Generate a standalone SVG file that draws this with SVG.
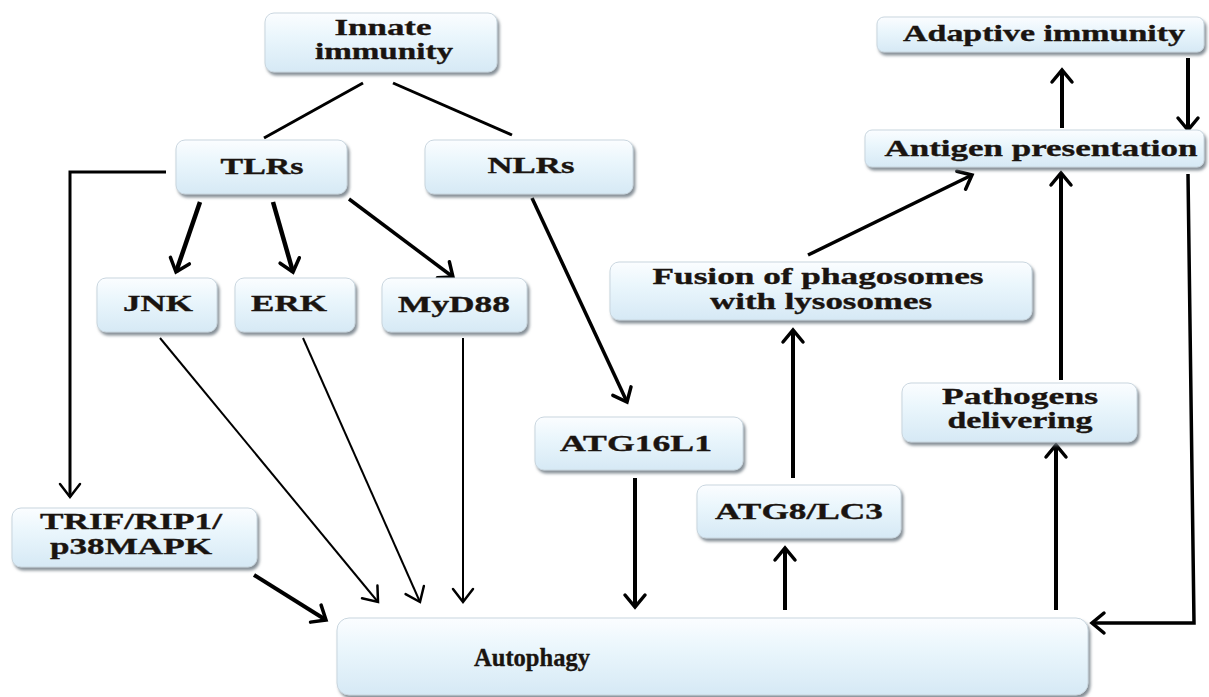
<svg xmlns="http://www.w3.org/2000/svg" width="1209" height="697" viewBox="0 0 1209 697">
<defs>
<linearGradient id="bg" x1="0" y1="0" x2="0" y2="1">
<stop offset="0" stop-color="#fbfdff"/>
<stop offset="0.4" stop-color="#eaf6fc"/>
<stop offset="1" stop-color="#d6e9f5"/>
</linearGradient>
<filter id="sh" x="-10%" y="-20%" width="125%" height="150%">
<feDropShadow dx="2" dy="3" stdDeviation="1.6" flood-color="#6f7a84" flood-opacity="0.85"/>
</filter>
<marker id="ah" markerUnits="userSpaceOnUse" markerWidth="26" markerHeight="26" viewBox="0 0 26 26" refX="22" refY="13" orient="auto">
<path d="M10,3 L22,13 L10,23" fill="none" stroke="#000" stroke-width="3.5" stroke-linecap="round" stroke-linejoin="miter"/>
</marker>
<marker id="at" markerUnits="userSpaceOnUse" markerWidth="26" markerHeight="26" viewBox="0 0 26 26" refX="22" refY="13" orient="auto">
<path d="M9,3 L22,13 L9,23" fill="none" stroke="#000" stroke-width="2.5" stroke-linecap="round"/>
</marker>
</defs>
<style>
.box{fill:url(#bg);stroke:#c9d6df;stroke-width:1;filter:url(#sh)}
.t{font-family:"Liberation Serif","Times New Roman",serif;font-weight:bold;font-size:24px;fill:#1a1410;stroke:#1a1410;stroke-width:0.35;text-anchor:middle}
.c{fill:none;stroke:#000;stroke-linecap:butt;stroke-linejoin:miter}
</style>
<rect width="1209" height="697" fill="#fff"/>

<g id="connectors">
<line class="c" x1="363" y1="83" x2="264" y2="138" stroke-width="3"/>
<line class="c" x1="393" y1="83" x2="512" y2="135" stroke-width="3"/>
<polyline class="c" points="166,172 70,172 70,497" stroke-width="3" marker-end="url(#at)"/>
<line class="c" x1="200" y1="202" x2="176" y2="272" stroke-width="4.5" marker-end="url(#ah)"/>
<line class="c" x1="273" y1="202" x2="293" y2="272" stroke-width="4.5" marker-end="url(#ah)"/>
<line class="c" x1="349" y1="199" x2="453" y2="277" stroke-width="3.5" marker-end="url(#ah)"/>
<line class="c" x1="532" y1="198" x2="627" y2="402" stroke-width="3.5" marker-end="url(#ah)"/>
<line class="c" x1="160" y1="338" x2="378" y2="602" stroke-width="2" marker-end="url(#at)"/>
<line class="c" x1="303" y1="338" x2="420" y2="602" stroke-width="2" marker-end="url(#at)"/>
<line class="c" x1="463" y1="338" x2="463" y2="602" stroke-width="2" marker-end="url(#at)"/>
<line class="c" x1="254" y1="575" x2="326" y2="620" stroke-width="4" marker-end="url(#ah)"/>
<line class="c" x1="635" y1="478" x2="635" y2="607" stroke-width="4" marker-end="url(#ah)"/>
<line class="c" x1="785" y1="610" x2="785" y2="548" stroke-width="4" marker-end="url(#ah)"/>
<line class="c" x1="793" y1="478" x2="793" y2="330" stroke-width="4" marker-end="url(#ah)"/>
<line class="c" x1="808" y1="255" x2="972" y2="175" stroke-width="3.5" marker-end="url(#ah)"/>
<line class="c" x1="1056" y1="610" x2="1056" y2="445" stroke-width="4" marker-end="url(#ah)"/>
<line class="c" x1="1061" y1="380" x2="1061" y2="173" stroke-width="4" marker-end="url(#ah)"/>
<line class="c" x1="1062" y1="128" x2="1062" y2="70" stroke-width="4" marker-end="url(#ah)"/>
<line class="c" x1="1188" y1="58" x2="1188" y2="130" stroke-width="4" marker-end="url(#ah)"/>
<polyline class="c" points="1188,174 1194,623 1092,623" stroke-width="3.5" marker-end="url(#ah)"/>
</g>

<g id="innate"><rect class="box" x="265" y="13" width="232" height="59" rx="9"/>
<text class="t" x="383" y="35" textLength="97" lengthAdjust="spacingAndGlyphs">Innate</text>
<text class="t" x="384" y="59" textLength="138" lengthAdjust="spacingAndGlyphs">immunity</text></g>

<g id="tlrs"><rect class="box" x="176" y="140" width="171" height="54" rx="9"/>
<text class="t" x="262" y="174" textLength="83" lengthAdjust="spacingAndGlyphs">TLRs</text></g>

<g id="nlrs"><rect class="box" x="425" y="140" width="208" height="54" rx="9"/>
<text class="t" x="531" y="173" textLength="87" lengthAdjust="spacingAndGlyphs">NLRs</text></g>

<g id="jnk"><rect class="box" x="97" y="278" width="120" height="54" rx="9"/>
<text class="t" x="158" y="311" textLength="70" lengthAdjust="spacingAndGlyphs">JNK</text></g>

<g id="erk"><rect class="box" x="235" y="278" width="120" height="54" rx="9"/>
<text class="t" x="289" y="311" textLength="76" lengthAdjust="spacingAndGlyphs">ERK</text></g>

<g id="myd88"><rect class="box" x="382" y="278" width="145" height="54" rx="9"/>
<text class="t" x="454" y="312" textLength="112" lengthAdjust="spacingAndGlyphs">MyD88</text></g>

<g id="trif"><rect class="box" x="12" y="508" width="245" height="59" rx="9"/>
<text class="t" x="131" y="529" textLength="182" lengthAdjust="spacingAndGlyphs">TRIF/RIP1/</text>
<text class="t" x="131" y="554" textLength="162" lengthAdjust="spacingAndGlyphs">p38MAPK</text></g>

<g id="atg16l1"><rect class="box" x="535" y="417" width="208" height="53" rx="9"/>
<text class="t" x="636" y="451" textLength="152" lengthAdjust="spacingAndGlyphs">ATG16L1</text></g>

<g id="atg8"><rect class="box" x="697" y="485" width="204" height="53" rx="9"/>
<text class="t" x="799" y="519" textLength="168" lengthAdjust="spacingAndGlyphs">ATG8/LC3</text></g>

<g id="fusion"><rect class="box" x="610" y="262" width="422" height="58" rx="9"/>
<text class="t" x="818" y="284" textLength="331" lengthAdjust="spacingAndGlyphs">Fusion of phagosomes</text>
<text class="t" x="821" y="309" textLength="222" lengthAdjust="spacingAndGlyphs">with lysosomes</text></g>

<g id="pathogens"><rect class="box" x="902" y="383" width="235" height="59" rx="9"/>
<text class="t" x="1020" y="404" textLength="156" lengthAdjust="spacingAndGlyphs">Pathogens</text>
<text class="t" x="1020" y="428" textLength="145" lengthAdjust="spacingAndGlyphs">delivering</text></g>

<g id="adaptive"><rect class="box" x="877" y="17" width="327" height="35" rx="7"/>
<text class="t" x="1044" y="41" textLength="282" lengthAdjust="spacingAndGlyphs">Adaptive immunity</text></g>

<g id="antigen"><rect class="box" x="865" y="130" width="339" height="37" rx="7"/>
<text class="t" x="1041" y="156" textLength="313" lengthAdjust="spacingAndGlyphs">Antigen presentation</text></g>

<g id="autophagy"><rect class="box" x="337" y="618" width="751" height="77" rx="12"/>
<text class="t" x="532" y="666" style="font-size:25px" textLength="116" lengthAdjust="spacingAndGlyphs">Autophagy</text></g>
</svg>
